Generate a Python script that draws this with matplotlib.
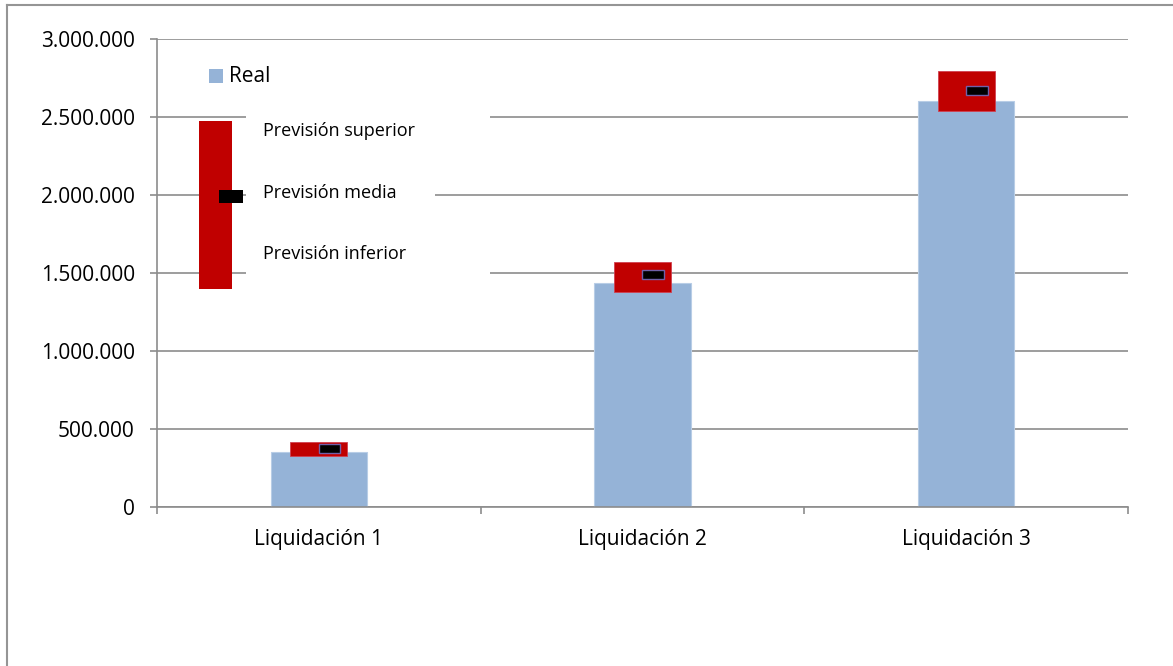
import matplotlib
matplotlib.use("Agg")
import matplotlib.pyplot as plt
from matplotlib.patches import Rectangle
from matplotlib.lines import Line2D
import numpy as np

# ---- data ----
categories = ["Liquidación 1", "Liquidación 2", "Liquidación 3"]
real = [350000, 1438000, 2605000]
prev_sup = [417000, 1570000, 2793000]
prev_inf = [327000, 1376000, 2537000]
prev_med = [376000, 1492000, 2671000]
yticks = [0, 500000, 1000000, 1500000, 2000000, 2500000, 3000000]
ytick_labels = ["0", "500.000", "1.000.000", "1.500.000", "2.000.000", "2.500.000", "3.000.000"]
legend_real = "Real"
legend_labels = ["Previsión superior", "Previsión media", "Previsión inferior"]

W, H = 1173, 666
plt.rcParams['font.family'] = ['Open Sans', 'DejaVu Sans']
fig = plt.figure(figsize=(W / 100, H / 100), dpi=100)

def fx(px):
    return px / W

def fy(py):
    return 1 - py / H

ax = fig.add_axes([fx(157), fy(507), (1128 - 157) / W, (507 - 39) / H])

grid_c = "#8c8c8c"
blue = "#95B3D7"
red = "#C00000"

x = np.arange(len(categories))
ax.bar(x, real, width=0.297, color=blue, edgecolor="#b8cde6", linewidth=0.8, zorder=2)
ax.bar(x, np.array(prev_sup) - np.array(prev_inf), bottom=prev_inf, width=0.176,
       color=red, edgecolor="#d04050", linewidth=0.6, zorder=3)
mh = 55000
ax.bar(x, [mh] * len(x), bottom=np.array(prev_med) - mh / 2, width=0.066, align="edge",
       color="black", edgecolor="#7060A8", linewidth=1.0, zorder=4)

ax.set_xlim(-0.5, 2.5)
ax.set_ylim(0, 3000000)
ax.set_yticks(yticks)
ax.set_yticklabels(ytick_labels)
ax.set_xticks(x)
ax.set_xticklabels(categories)
ax.set_xticks([-0.5, 0.5, 1.5, 2.5], minor=True)
ax.tick_params(axis="x", which="major", length=0, pad=16, labelsize=15)
ax.tick_params(axis="x", which="minor", length=5, width=1.2, color=grid_c, direction="out")
ax.tick_params(axis="y", length=5, width=1.2, color=grid_c, direction="out", pad=11, labelsize=15)

ax.yaxis.grid(True, color=grid_c, linewidth=1.2, zorder=0)
ax.set_axisbelow(True)
for s in ["top", "right"]:
    ax.spines[s].set_visible(False)
for s in ["left", "bottom"]:
    ax.spines[s].set_color(grid_c)
    ax.spines[s].set_linewidth(1.2)

# ---- custom legend ----
def prect(x0, y0, x1, y1, **kw):
    r = Rectangle((fx(x0), fy(y1)), fx(x1) - fx(x0), fy(y0) - fy(y1),
                  transform=fig.transFigure, clip_on=False, **kw)
    ax.add_patch(r)

prect(209, 69, 223, 83, facecolor=blue, edgecolor="none", zorder=5)
fig.text(fx(229), fy(76), legend_real, ha="left", va="center", fontsize=15)

# white covers hiding gridlines behind legend text
prect(246, 105, 490, 150, facecolor="white", edgecolor="none", zorder=1.5)
prect(246, 180, 435, 208, facecolor="white", edgecolor="none", zorder=1.5)
prect(246, 240, 490, 285, facecolor="white", edgecolor="none", zorder=1.5)

prect(199, 121, 232, 289, facecolor=red, edgecolor="none", zorder=5)
prect(219, 190, 243, 203, facecolor="black", edgecolor="none", zorder=6)
for lbl, py in zip(legend_labels, [131, 193, 254]):
    fig.text(fx(263), fy(py), lbl, ha="left", va="center", fontsize=13)

# chart area border (left and top)
fig.add_artist(Line2D([fx(7), fx(7)], [fy(4.5), 0], transform=fig.transFigure,
                      color="#959595", linewidth=1.5))
fig.add_artist(Line2D([fx(7), 1], [fy(4.5), fy(4.5)], transform=fig.transFigure,
                      color="#959595", linewidth=1.5))

fig.savefig("out.png", dpi=100)
